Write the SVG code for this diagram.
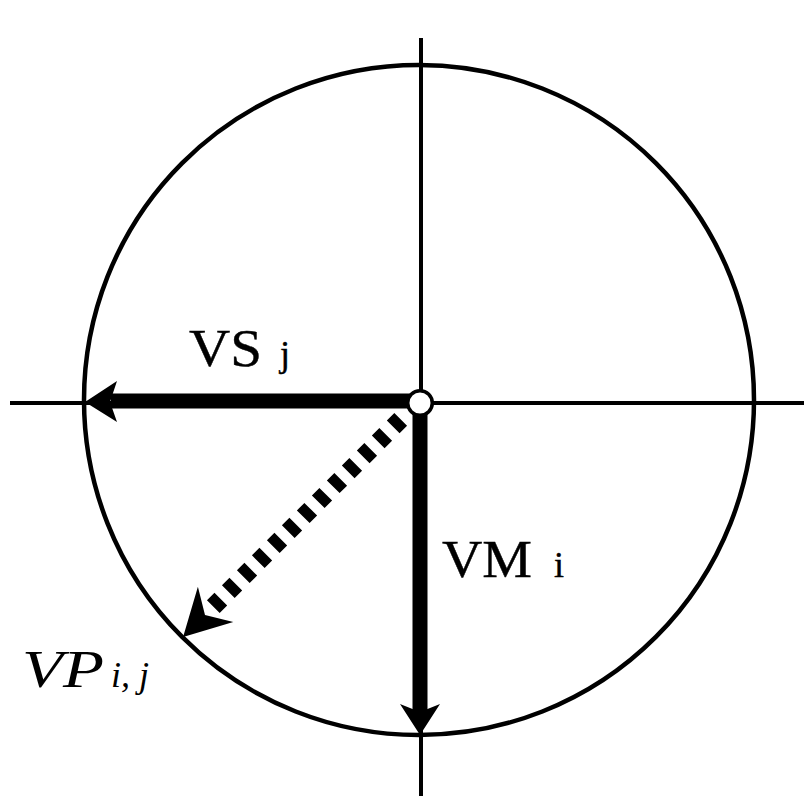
<svg xmlns="http://www.w3.org/2000/svg" width="804" height="796" viewBox="0 0 804 796">
  <style>
    .thin { stroke: #000; stroke-width: 4; fill: none; }
    .thick { stroke: #000; stroke-width: 15; fill: none; stroke-linecap: butt; }
    .dash { stroke: #000; stroke-width: 18; fill: none; stroke-dasharray: 10.6 10.6; stroke-linecap: butt; }
    .head { fill: #000; stroke: none; }
    .lbl { font-family: "Liberation Serif", "Times New Roman", serif; fill: #000; stroke: #000; stroke-width: 0.4; }
    .it { font-style: italic; stroke: none; }
  </style>
  <rect width="804" height="796" fill="#fff"/>
  <g id="axes">
    <line class="thin" x1="421" y1="38" x2="421" y2="796"/>
    <line class="thin" x1="10" y1="403" x2="804" y2="403"/>
  </g>
  <g id="circle">
    <circle cx="419" cy="400" r="335" fill="none" stroke="#000" stroke-width="4.5"/>
  </g>
  <g id="connectors">
    <g id="vs">
      <line class="thick" x1="420" y1="401" x2="111" y2="401"/>
      <polygon class="head" points="85,402 117,381 110,402 117,422"/>
    </g>
    <g id="vm">
      <line class="thick" x1="420" y1="401" x2="420" y2="713"/>
      <polygon class="head" points="420,735 400,704 420,712 440,704"/>
    </g>
    <g id="vp">
      <line class="dash" x1="400.7" y1="419.3" x2="213.2" y2="606.8"/>
      <polygon class="head" points="183.1,636.9 197.9,586.7 205,615 233.3,622.1"/>
    </g>
  </g>
  <g id="origin">
    <circle cx="420" cy="403" r="12.3" fill="#fff" stroke="#000" stroke-width="3.5"/>
  </g>
  <g id="labels">
    <text class="lbl" x="189" y="366" font-size="52" textLength="73" lengthAdjust="spacingAndGlyphs">VS</text>
    <text class="lbl" x="280" y="366" font-size="36">j</text>
    <text class="lbl" x="442" y="577" font-size="52" textLength="90" lengthAdjust="spacingAndGlyphs">VM</text>
    <text class="lbl" x="554" y="577" font-size="36">i</text>
    <text class="lbl it" x="22" y="687" font-size="52" textLength="82" lengthAdjust="spacingAndGlyphs">VP</text>
    <text class="lbl it" x="111" y="687" font-size="36">i, j</text>
  </g>
</svg>
